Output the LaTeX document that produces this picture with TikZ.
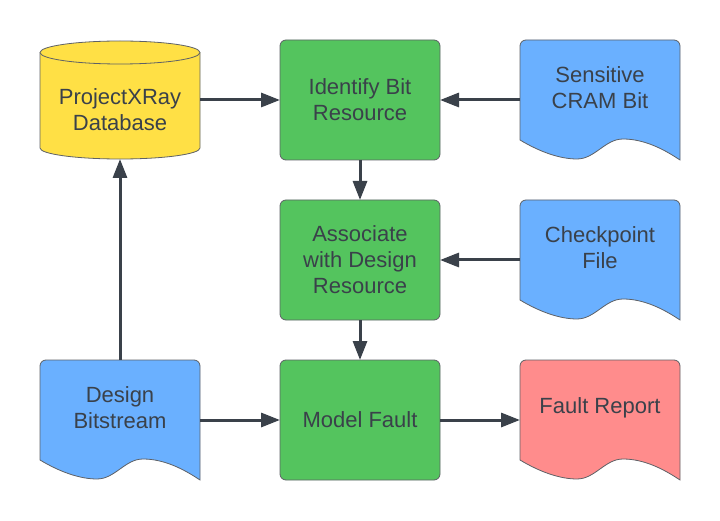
\documentclass[tikz,border=0pt]{standalone}
\usepackage{fontspec}
\setmainfont{Liberation Sans}
\usepackage{tikz}
\usetikzlibrary{arrows.meta,backgrounds}
\usepackage{xcolor}
\definecolor{ink}{HTML}{3A414A}
\definecolor{edge}{HTML}{5E6166}
\definecolor{dbfill}{HTML}{FFE045}
\definecolor{stepfill}{HTML}{54C45E}
\definecolor{docfill}{HTML}{6AB0FF}
\definecolor{outfill}{HTML}{FF8C8C}
\pgfsetlayers{background,main}
\newcommand{\docbehind}[2]{%
  \begin{pgfonlayer}{background}
    \begin{scope}[shift={(#1.south west)}]
      \filldraw[outline, fill=#2] (0,20) [rounded corners=6pt] -- (0,120) -- (160,120) [sharp corners] -- (160,0)
        .. controls (145,10) and (125,21) .. (103,21)
        .. controls (85,21) and (75,1) .. (57,1)
        .. controls (40,1) and (20,8) .. (0,20) -- cycle;
    \end{scope}
  \end{pgfonlayer}}
\newcommand{\dbbehind}[2]{%
  \begin{pgfonlayer}{background}
    \begin{scope}[shift={(#1.south west)}]
      \filldraw[outline, fill=#2] (0,11) -- (0,106.5)
        arc[start angle=180, end angle=0, x radius=80pt, y radius=11.5pt] -- (160,11)
        arc[start angle=0, end angle=-180, x radius=80pt, y radius=11pt] -- cycle;
      \draw[outline] (0,106.5) arc[start angle=180, end angle=360, x radius=80pt, y radius=11.5pt];
    \end{scope}
  \end{pgfonlayer}}

\begin{document}
\begin{tikzpicture}[x=1pt, y=1pt,
    every node/.style={font=\fontsize{22}{26}\selectfont, text=ink},
    outline/.style={draw=edge, line width=0.8pt},
    stepbox/.style={outline, fill=stepfill, rounded corners=6pt, minimum width=160pt,
      minimum height=120pt, align=center, outer sep=0pt},
    docbox/.style={minimum width=160pt, minimum height=120pt, inner sep=0pt, outer sep=0pt},
    dbbox/.style={minimum width=160pt, minimum height=118pt, inner sep=0pt, outer sep=0pt},
    doctext/.style={align=center, yshift=12pt},
    dbtext/.style={align=center, yshift=-10pt},
    flow/.style={-{Triangle[length=19pt, width=14pt]}, line width=3pt, draw=ink}]
  \useasboundingbox (0,0) rectangle (720,520);
  % left column
  \node[dbbox, label={[dbtext]center:ProjectXRay\\Database}] (db) at (120,420) {};
  \node[docbox, label={[doctext]center:Design\\Bitstream}] (bits) at (120,100) {};
  % middle column
  \node[stepbox] (ident) at (360,420) {Identify Bit\\Resource};
  \node[stepbox] (assoc) at (360,260) {Associate\\with Design\\Resource};
  \node[stepbox] (model) at (360,100) {Model Fault};
  % right column
  \node[docbox, label={[doctext]center:Sensitive\\CRAM Bit}] (sens) at (600,420) {};
  \node[docbox, label={[doctext]center:Checkpoint\\File}] (ckpt) at (600,260) {};
  \node[docbox, label={[doctext]center:Fault Report}] (report) at (600,100) {};
  \dbbehind{db}{dbfill}
  \docbehind{bits}{docfill}
  \docbehind{sens}{docfill}
  \docbehind{ckpt}{docfill}
  \docbehind{report}{outfill}
  % connectors
  \draw[flow] (db.east) -- (ident.west);
  \draw[flow] (sens.west) -- (ident.east);
  \draw[flow] (ident.south) -- (assoc.north);
  \draw[flow] (ckpt.west) -- (assoc.east);
  \draw[flow] (assoc.south) -- (model.north);
  \draw[flow] (bits.north) -- (db.south);
  \draw[flow] (bits.east) -- (model.west);
  \draw[flow] (model.east) -- (report.west);
\end{tikzpicture}
\end{document}
